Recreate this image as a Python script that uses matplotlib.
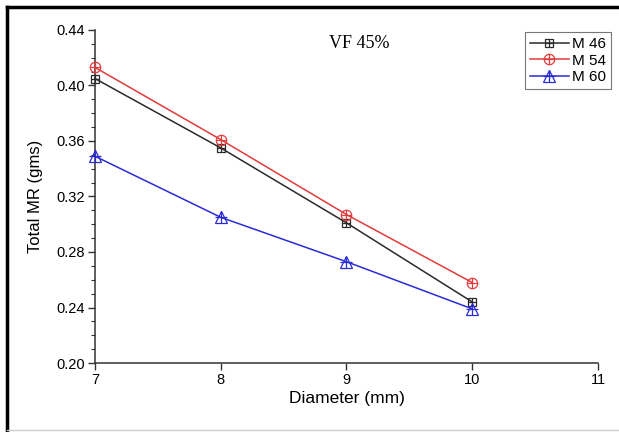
import matplotlib.pyplot as plt
from matplotlib.lines import Line2D
from matplotlib.legend_handler import HandlerTuple
from matplotlib.ticker import MultipleLocator

diameter = [7, 8, 9, 10]
m46 = [0.405, 0.355, 0.301, 0.244]
m54 = [0.413, 0.361, 0.307, 0.258]
m60 = [0.349, 0.305, 0.273, 0.239]

plt.rcParams['font.family'] = ['Liberation Sans', 'DejaVu Sans']

fig = plt.figure(figsize=(6.19, 4.32), dpi=100)
ax = fig.add_axes([0.1535, 0.1597, 0.8125, 0.7709])

series = [(m46, 'M 46', '#2a2a2a', 's', 6),
          (m54, 'M 54', '#e23b3b', 'o', 7.5),
          (m60, 'M 60', '#2b2bd6', '^', 8)]
handles = []
for vals, lab, col, mk, ms in series:
    l1, = ax.plot(diameter, vals, color=col, lw=1.1, marker=mk, ms=ms,
                  mfc='none', mec=col, mew=0.9, clip_on=False, zorder=3)
    l2, = ax.plot(diameter, vals, ls='none', marker='+', ms=ms, mec=col,
                  mew=0.9, clip_on=False, zorder=3)
    handles.append(((l1, l2), lab))

ax.set_xlim(7, 11)
ax.set_ylim(0.20, 0.44)
ax.set_xticks([7, 8, 9, 10, 11])
ax.yaxis.set_major_locator(MultipleLocator(0.04))
ax.yaxis.set_minor_locator(MultipleLocator(0.01))
ax.set_yticklabels(['%.2f' % v for v in ax.get_yticks()])
for s in ['top', 'right']:
    ax.spines[s].set_visible(False)
for s in ['left', 'bottom']:
    ax.spines[s].set_color('#333333')
    ax.spines[s].set_linewidth(1.1)
ax.tick_params(which='major', direction='out', length=5, width=1,
               color='#333333', labelsize=10.5, pad=2)
ax.tick_params(which='minor', direction='out', length=3, width=0.8,
               color='#333333')

ax.set_xlabel('Diameter (mm)', fontsize=12.5, labelpad=3)
ax.set_ylabel('Total MR (gms)', fontsize=12, labelpad=10)

fig.text(359 / 619, 1 - 44 / 432, 'VF 45%', family='Liberation Serif',
         fontsize=13, ha='center', va='center')

leg = ax.legend([h for h, _ in handles], [l for _, l in handles],
                handler_map={tuple: HandlerTuple(ndivide=1)},
                loc='upper right', bbox_to_anchor=(611 / 619, 1 - 32 / 432),
                bbox_transform=fig.transFigure, borderaxespad=0,
                fancybox=False, fontsize=11, labelspacing=0.15,
                handlelength=2.5, handletextpad=0.2, borderpad=0.35)
leg.get_frame().set_edgecolor('#555555')
leg.get_frame().set_linewidth(0.8)

# outer frame of the picture
fig.add_artist(Line2D([7 / 619, 7 / 619], [0, 1 - 7 / 432], color='black',
                      lw=2.5, transform=fig.transFigure))
fig.add_artist(Line2D([7 / 619, 1], [1 - 7 / 432, 1 - 7 / 432], color='black',
                      lw=2.5, transform=fig.transFigure))
fig.add_artist(Line2D([7 / 619, 1], [1 - 430 / 432, 1 - 430 / 432],
                      color='#cccccc', lw=1, transform=fig.transFigure))

fig.savefig('out.png', dpi=100)
